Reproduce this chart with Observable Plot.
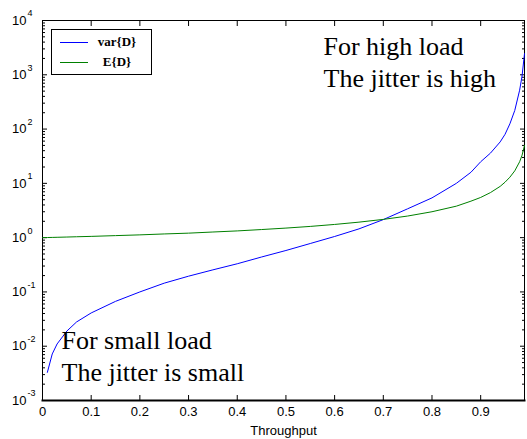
<!DOCTYPE html>
<html><head><meta charset="utf-8">
<script src="https://cdn.jsdelivr.net/npm/d3@7"></script>
<script src="https://cdn.jsdelivr.net/npm/@observablehq/plot@0.6"></script>
<style>
body{margin:0;background:#fff}
#wrap{position:relative;width:527px;height:439px;overflow:hidden}
#legend{position:absolute;left:51px;top:29px;width:99px;height:44px;border:1px solid #000;background:#fff;font-family:"Liberation Serif","Times New Roman",serif;font-weight:bold;font-size:13px}
#legend .row{position:absolute;left:0;width:99px;height:14px}
#legend .ln{position:absolute;left:8px;width:28px;top:6px;height:0;border-top:1px solid}
#legend .lb{position:absolute;left:36px;width:58px;text-align:center;top:-2px}
</style>
</head><body><div id="wrap"></div>
<script>
const throughput = [0, 0.01, 0.02, 0.03, 0.05, 0.07, 0.1, 0.15, 0.2, 0.25, 0.3, 0.35, 0.4, 0.45, 0.5, 0.55, 0.6, 0.65, 0.7, 0.75, 0.8, 0.85, 0.88, 0.9, 0.92, 0.94, 0.95, 0.96, 0.97, 0.98, 0.985, 0.99];
const varD = [null, 0.0033, 0.0072, 0.011, 0.019, 0.028, 0.041, 0.067, 0.10, 0.145, 0.195, 0.255, 0.33, 0.44, 0.58, 0.78, 1.05, 1.45, 2.15, 3.4, 5.4, 10, 16, 25, 36, 58, 80, 125, 220, 520, 950, 2450];
const meanD = [1.0, 1.005, 1.01, 1.015, 1.026, 1.038, 1.055, 1.09, 1.125, 1.17, 1.21, 1.27, 1.33, 1.41, 1.5, 1.61, 1.75, 1.93, 2.17, 2.5, 3.0, 3.8, 4.7, 5.5, 6.75, 8.8, 10.5, 13, 17, 25, 33, 50];
const seriesNames = ["var{D}", "E{D}"];
const seriesColors = ["#0000ff", "#008000"];
const xTicks = [0, 0.1, 0.2, 0.3, 0.4, 0.5, 0.6, 0.7, 0.8, 0.9];
const yExponents = [-3, -2, -1, 0, 1, 2, 3, 4];
const annotationHigh = ["For high load", "The jitter is high"];
const annotationSmall = ["For small load", "The jitter is small"];

const rows = [];
throughput.forEach((x, i) => {
  if (varD[i] != null) rows.push({x, v: varD[i], s: seriesNames[0]});
});
throughput.forEach((x, i) => rows.push({x, v: meanD[i], s: seriesNames[1]}));

const majors = yExponents.map(e => 10 ** e);
const minors = [];
yExponents.slice(0, -1).forEach(e => { for (let m = 2; m <= 9; m++) minors.push(m * 10 ** e); });

const serif = "'Liberation Serif','Times New Roman',serif";
const chart = Plot.plot({
  width: 527, height: 439,
  marginTop: 20, marginBottom: 39, marginLeft: 42, marginRight: 3,
  style: {background: "white", fontFamily: "'Liberation Sans',Arial,sans-serif", fontSize: "13px", color: "black"},
  x: {domain: [0, 0.99]},
  y: {type: "log", domain: [1e-3, 1e4]},
  color: {domain: seriesNames, range: seriesColors},
  marks: [
    Plot.frame({stroke: "black"}),
    Plot.frame({anchor: "bottom", stroke: "black", strokeWidth: 2}),
    Plot.axisX({anchor: "bottom", ticks: xTicks, tickSize: -5, tickFormat: () => "", label: null}),
    Plot.axisX({anchor: "top", ticks: xTicks, tickSize: -5, tickFormat: () => "", label: null}),
    Plot.axisX({anchor: "bottom", ticks: xTicks, tickSize: 0, tickPadding: 6, fontSize: 13, tickFormat: d3.format("~g"), label: "Throughput", labelAnchor: "center", labelArrow: "none", labelOffset: 34}),
    Plot.axisY({anchor: "left", ticks: majors, tickSize: -5, tickFormat: () => "", label: null}),
    Plot.axisY({anchor: "left", ticks: minors, tickSize: -3, tickFormat: () => "", label: null}),
    Plot.axisY({anchor: "right", ticks: majors, tickSize: -5, tickFormat: () => "", label: null}),
    Plot.axisY({anchor: "right", ticks: minors, tickSize: -3, tickFormat: () => "", label: null}),
    Plot.text(yExponents, {y: e => 10 ** e, text: () => "10", frameAnchor: "left", textAnchor: "end", dx: -16, fontSize: 13}),
    Plot.text(yExponents, {y: e => 10 ** e, text: e => String(e), frameAnchor: "left", textAnchor: "start", dx: -15, dy: -7, fontSize: 9}),
    Plot.line(rows, {x: "x", y: "v", stroke: "s", strokeWidth: 1}),
    Plot.text([annotationHigh[0]], {frameAnchor: "top-left", dx: 281, dy: 34, lineAnchor: "bottom", textAnchor: "start", fontFamily: serif, fontSize: 26}),
    Plot.text([annotationHigh[1]], {frameAnchor: "top-left", dx: 281, dy: 66, lineAnchor: "bottom", textAnchor: "start", fontFamily: serif, fontSize: 26}),
    Plot.text([annotationSmall[0]], {frameAnchor: "bottom-left", dx: 19, dy: -52, lineAnchor: "bottom", textAnchor: "start", fontFamily: serif, fontSize: 26}),
    Plot.text([annotationSmall[1]], {frameAnchor: "bottom-left", dx: 19, dy: -20, lineAnchor: "bottom", textAnchor: "start", fontFamily: serif, fontSize: 26})
  ]
});
const wrap = document.getElementById("wrap");
wrap.appendChild(chart);
const legend = document.createElement("div");
legend.id = "legend";
seriesNames.forEach((name, i) => {
  const row = document.createElement("div");
  row.className = "row";
  row.style.top = (6 + i * 20) + "px";
  const ln = document.createElement("div");
  ln.className = "ln";
  ln.style.borderTopColor = seriesColors[i];
  const lb = document.createElement("div");
  lb.className = "lb";
  lb.textContent = name;
  row.appendChild(ln); row.appendChild(lb);
  legend.appendChild(row);
});
wrap.appendChild(legend);
</script>
</body></html>
